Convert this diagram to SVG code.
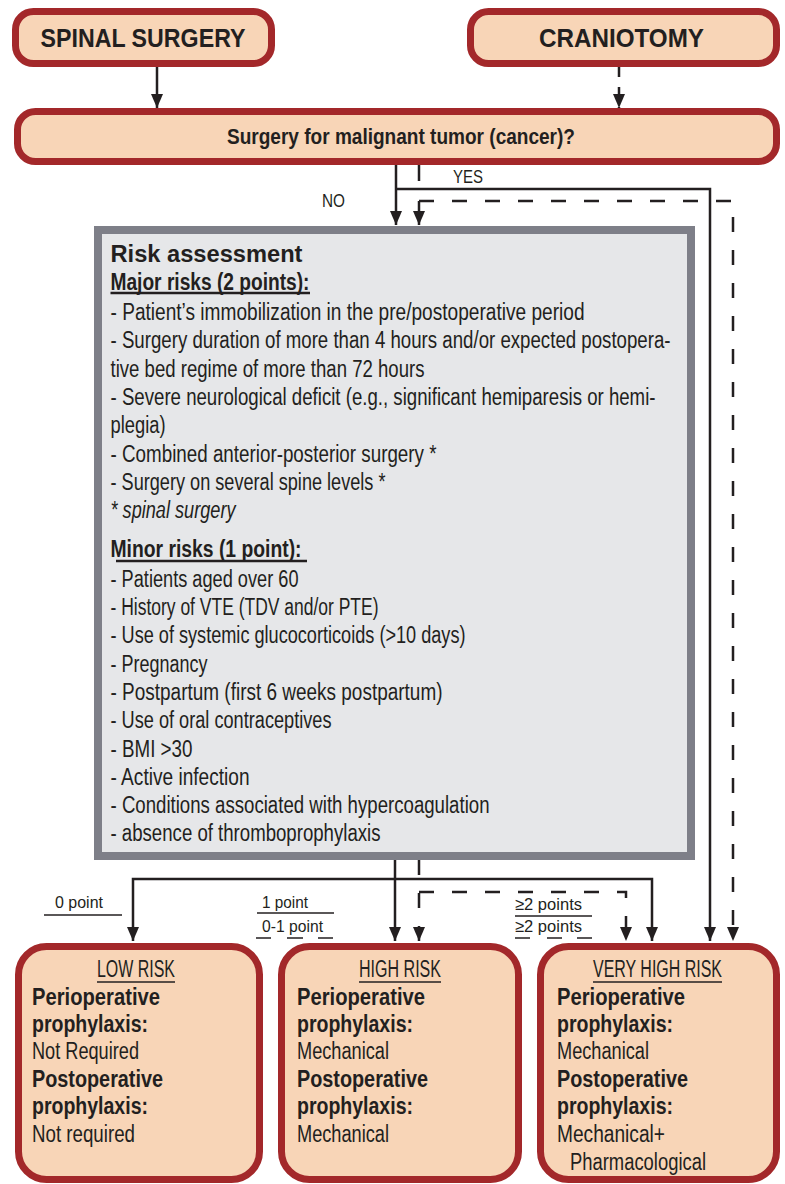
<svg xmlns="http://www.w3.org/2000/svg" width="785" height="1184" viewBox="0 0 785 1184">
<defs>
<style>
.rb{fill:#F8D5B7;stroke:#A3282A;stroke-width:7}
.gb{fill:#E6E7E9;stroke:#7E7F88;stroke-width:8}
text{font-family:"Liberation Sans Narrow","Liberation Sans",Arial,sans-serif;fill:#231F20}
.b{font-weight:bold}
.t{font-size:23px}
.s{font-size:17px}
.ln{stroke:#231F20;stroke-width:2.5;fill:none}
.dl{stroke:#231F20;stroke-width:2.5;fill:none;stroke-dasharray:15 18}
.ul{stroke:#231F20;stroke-width:1.5}
.ulk{stroke:#231F20;stroke-width:2.5}
</style>
<marker id="ah" viewBox="0 0 14 12" refX="14" refY="6" markerWidth="14" markerHeight="12" markerUnits="userSpaceOnUse" orient="auto">
<path d="M0,0 L14,6 L0,12 z" fill="#231F20"/>
</marker>
</defs>
<rect width="785" height="1184" fill="#ffffff"/>

<g id="connectors">
<path class="ln" d="M157,67 V108" marker-end="url(#ah)"/>
<path class="ln" d="M619,67 V108" style="stroke-dasharray:10 10" marker-end="url(#ah)"/>
<path class="ln" d="M396,165 V225" marker-end="url(#ah)"/>
<path class="ln" d="M396,189 H710 V941" marker-end="url(#ah)"/>
<path class="ln" d="M419,165 V181"/>
<path class="dl" d="M419,201 H733 V941" marker-end="url(#ah)"/>
<path class="ln" d="M419,201 V225" marker-end="url(#ah)"/>
<path class="ln" d="M395,860 V941" marker-end="url(#ah)"/>
<path class="ln" d="M395,879 H133 V941" marker-end="url(#ah)"/>
<path class="ln" d="M395,879 H652 V941" marker-end="url(#ah)"/>
<path class="dl" d="M419,860 V941" marker-end="url(#ah)"/>
<path class="dl" d="M419,892 H626 V941" marker-end="url(#ah)"/>
<text x="453" y="183" font-size="19px" textLength="30" lengthAdjust="spacingAndGlyphs">YES</text>
<text x="322" y="207" font-size="19px" textLength="23" lengthAdjust="spacingAndGlyphs">NO</text>
<text class="s" x="55" y="908" textLength="48" lengthAdjust="spacingAndGlyphs">0 point</text>
<line class="ul" x1="44" y1="915" x2="122" y2="915"/>
<text class="s" x="262" y="908" textLength="46" lengthAdjust="spacingAndGlyphs">1 point</text>
<line class="ul" x1="257" y1="913" x2="334" y2="913"/>
<text class="s" x="262" y="932" textLength="61" lengthAdjust="spacingAndGlyphs">0-1 point</text>
<path class="ul" d="M256,938 H271 M287,938 H303 M318,938 H333"/>
<text class="s" x="515" y="910" textLength="67" lengthAdjust="spacingAndGlyphs">≥2 points</text>
<line class="ul" x1="515" y1="916" x2="592" y2="916"/>
<text class="s" x="515" y="932" textLength="67" lengthAdjust="spacingAndGlyphs">≥2 points</text>
<path class="ul" d="M515,938 H530 M547,938 H562 M577,938 H592"/>
</g>

<g id="spinal">
<rect class="rb" x="15.5" y="11.5" width="256" height="52" rx="18"/>
<text class="b" x="143" y="47" font-size="25px" text-anchor="middle" textLength="205" lengthAdjust="spacingAndGlyphs">SPINAL SURGERY</text>
</g>
<g id="craniotomy">
<rect class="rb" x="470.5" y="11.5" width="306" height="52" rx="18"/>
<text class="b" x="621.5" y="47" font-size="25px" text-anchor="middle" textLength="165" lengthAdjust="spacingAndGlyphs">CRANIOTOMY</text>
</g>
<g id="question">
<rect class="rb" x="17.5" y="111.5" width="759" height="50" rx="18"/>
<text class="b" x="401" y="144" font-size="22px" text-anchor="middle" textLength="348" lengthAdjust="spacingAndGlyphs">Surgery for malignant tumor (cancer)?</text>
</g>

<g id="risk">
<rect class="gb" x="98" y="230" width="593" height="626"/>
<text class="b" x="110.5" y="262" font-size="23px" style="font-family:'Liberation Sans',Arial,sans-serif" textLength="192" lengthAdjust="spacingAndGlyphs">Risk assessment</text>
<text class="b t" x="110.5" y="290" textLength="199" lengthAdjust="spacingAndGlyphs">Major risks (2 points):</text>
<line class="ulk" x1="110.5" y1="293" x2="310" y2="293"/>
<g class="t">
<text x="110.5" y="319.5" textLength="474" lengthAdjust="spacingAndGlyphs">- Patient’s immobilization in the pre/postoperative period</text>
<text x="110.5" y="348" textLength="560" lengthAdjust="spacingAndGlyphs">- Surgery duration of more than 4 hours and/or expected postopera-</text>
<text x="110.5" y="376.5" textLength="314" lengthAdjust="spacingAndGlyphs">tive bed regime of more than 72 hours</text>
<text x="110.5" y="405" textLength="545" lengthAdjust="spacingAndGlyphs">- Severe neurological deficit (e.g., significant hemiparesis or hemi-</text>
<text x="110.5" y="433" textLength="55" lengthAdjust="spacingAndGlyphs">plegia)</text>
<text x="110.5" y="461.5" textLength="326" lengthAdjust="spacingAndGlyphs">- Combined anterior-posterior surgery *</text>
<text x="110.5" y="490" textLength="275" lengthAdjust="spacingAndGlyphs">- Surgery on several spine levels *</text>
<text x="110.5" y="518" font-style="italic" textLength="125" lengthAdjust="spacingAndGlyphs">* spinal surgery</text>
</g>
<text class="b t" x="110.5" y="557" textLength="191" lengthAdjust="spacingAndGlyphs">Minor risks (1 point):</text>
<line class="ulk" x1="116" y1="561" x2="307" y2="561"/>
<g class="t">
<text x="110.5" y="587" textLength="188" lengthAdjust="spacingAndGlyphs">- Patients aged over 60</text>
<text x="110.5" y="615" textLength="268" lengthAdjust="spacingAndGlyphs">- History of VTE (TDV and/or PTE)</text>
<text x="110.5" y="643" textLength="355" lengthAdjust="spacingAndGlyphs">- Use of systemic glucocorticoids (&gt;10 days)</text>
<text x="110.5" y="672" textLength="97" lengthAdjust="spacingAndGlyphs">- Pregnancy</text>
<text x="110.5" y="700" textLength="332" lengthAdjust="spacingAndGlyphs">- Postpartum (first 6 weeks postpartum)</text>
<text x="110.5" y="728" textLength="221" lengthAdjust="spacingAndGlyphs">- Use of oral contraceptives</text>
<text x="110.5" y="757" textLength="82" lengthAdjust="spacingAndGlyphs">- BMI &gt;30</text>
<text x="110.5" y="785" textLength="139" lengthAdjust="spacingAndGlyphs">- Active infection</text>
<text x="110.5" y="813" textLength="379" lengthAdjust="spacingAndGlyphs">- Conditions associated with hypercoagulation</text>
<text x="110.5" y="841" textLength="270" lengthAdjust="spacingAndGlyphs">- absence of thromboprophylaxis</text>
</g>
</g>

<g id="low">
<rect class="rb" x="18.5" y="946.5" width="241" height="233" rx="28"/>
<g class="t">
<text x="97" y="977" textLength="78" lengthAdjust="spacingAndGlyphs">LOW RISK</text>
<text class="b" x="32" y="1005" textLength="128" lengthAdjust="spacingAndGlyphs">Perioperative</text>
<text class="b" x="32" y="1032" textLength="116" lengthAdjust="spacingAndGlyphs">prophylaxis:</text>
<text x="32" y="1059" textLength="107" lengthAdjust="spacingAndGlyphs">Not Required</text>
<text class="b" x="32" y="1087" textLength="131" lengthAdjust="spacingAndGlyphs">Postoperative</text>
<text class="b" x="32" y="1114" textLength="116" lengthAdjust="spacingAndGlyphs">prophylaxis:</text>
<text x="32" y="1142" textLength="103" lengthAdjust="spacingAndGlyphs">Not required</text>
</g>
<line class="ul" x1="97" y1="982" x2="175" y2="982"/>
</g>

<g id="high">
<rect class="rb" x="281.5" y="946.5" width="237" height="233" rx="28"/>
<g class="t">
<text x="359" y="977" textLength="82" lengthAdjust="spacingAndGlyphs">HIGH RISK</text>
<text class="b" x="297" y="1005" textLength="128" lengthAdjust="spacingAndGlyphs">Perioperative</text>
<text class="b" x="297" y="1032" textLength="116" lengthAdjust="spacingAndGlyphs">prophylaxis:</text>
<text x="297" y="1059" textLength="92" lengthAdjust="spacingAndGlyphs">Mechanical</text>
<text class="b" x="297" y="1087" textLength="131" lengthAdjust="spacingAndGlyphs">Postoperative</text>
<text class="b" x="297" y="1114" textLength="116" lengthAdjust="spacingAndGlyphs">prophylaxis:</text>
<text x="297" y="1142" textLength="92" lengthAdjust="spacingAndGlyphs">Mechanical</text>
</g>
<line class="ul" x1="359" y1="982" x2="441" y2="982"/>
</g>

<g id="veryhigh">
<rect class="rb" x="540.5" y="946.5" width="236" height="233" rx="28"/>
<g class="t">
<text x="593" y="977" textLength="129" lengthAdjust="spacingAndGlyphs">VERY HIGH RISK</text>
<text class="b" x="557" y="1005" textLength="128" lengthAdjust="spacingAndGlyphs">Perioperative</text>
<text class="b" x="557" y="1032" textLength="116" lengthAdjust="spacingAndGlyphs">prophylaxis:</text>
<text x="557" y="1059" textLength="92" lengthAdjust="spacingAndGlyphs">Mechanical</text>
<text class="b" x="557" y="1087" textLength="131" lengthAdjust="spacingAndGlyphs">Postoperative</text>
<text class="b" x="557" y="1114" textLength="116" lengthAdjust="spacingAndGlyphs">prophylaxis:</text>
<text x="557" y="1142" textLength="108" lengthAdjust="spacingAndGlyphs">Mechanical+</text>
<text x="570" y="1170" textLength="136" lengthAdjust="spacingAndGlyphs">Pharmacological</text>
</g>
<line class="ul" x1="593" y1="982" x2="722" y2="982"/>
</g>
</svg>
